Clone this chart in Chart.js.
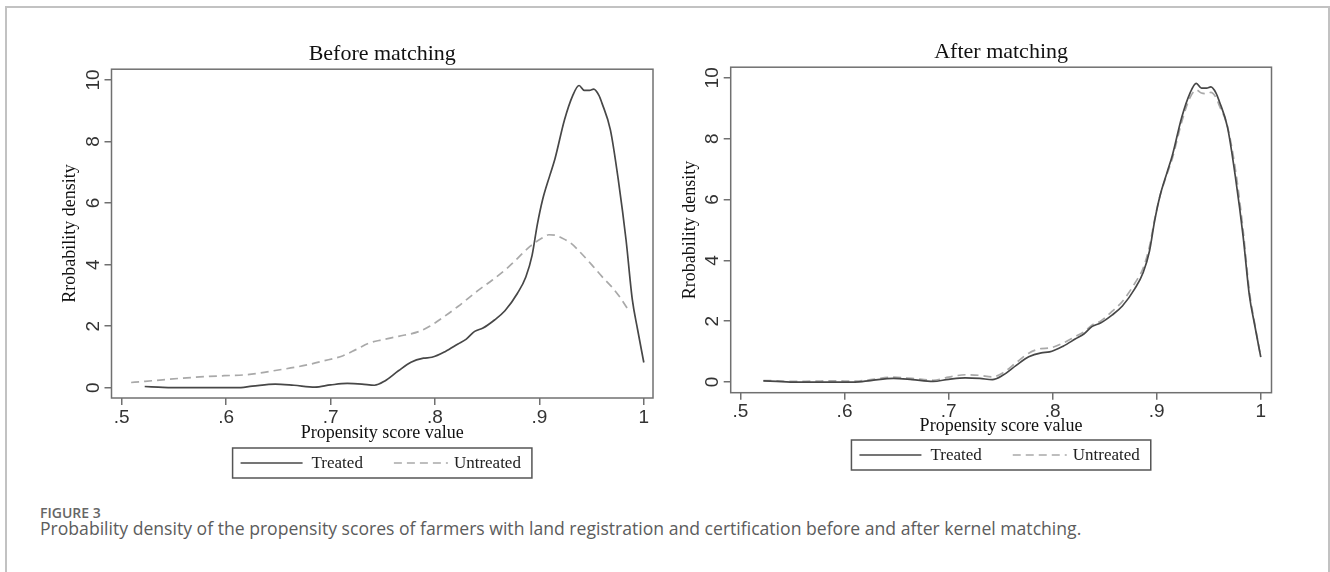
<!DOCTYPE html>
<html>
<head>
<meta charset="utf-8">
<script src="https://cdn.jsdelivr.net/npm/chart.js@4.4.1/dist/chart.umd.min.js"></script>
<style>
  html, body { margin: 0; padding: 0; background: #fff; width: 1330px; height: 572px; overflow: hidden; }
  .frame { position: absolute; left: 5px; top: 6px; width: 1325px; height: 620px; border: 2px solid #c2c2c2; border-bottom: none; box-sizing: border-box; }
  .panel { position: absolute; top: 0; width: 665px; height: 490px; }
  #leftPanel { left: 0; }
  #rightPanel { left: 665px; }
  .fig-label { position: absolute; left: 40px; top: 503px; line-height: 18px; font: 600 14px 'Open Sans', sans-serif; color: #666; }
  .fig-caption { position: absolute; left: 40px; top: 516px; line-height: 22px; font: 17.6px 'Open Sans', sans-serif; color: #5c5c5c; white-space: nowrap; }
</style>
</head>
<body>
<div class="frame"></div>
<div class="panel" id="leftPanel"><canvas id="beforeChart" width="665" height="490"></canvas></div>
<div class="panel" id="rightPanel"><canvas id="afterChart" width="665" height="490"></canvas></div>
<div class="fig-label">FIGURE 3</div>
<div class="fig-caption">Probability density of the propensity scores of farmers with land registration and certification before and after kernel matching.</div>
<script>
// propensity score grid + densities
const scoreTreated = [0.522, 0.535, 0.548, 0.57, 0.59, 0.61, 0.625, 0.647, 0.665, 0.685, 0.70, 0.716, 0.73, 0.742, 0.752, 0.765, 0.777, 0.789, 0.797, 0.81, 0.822, 0.83, 0.838, 0.846, 0.857, 0.867, 0.879, 0.887, 0.893, 0.898, 0.903, 0.91, 0.915, 0.924, 0.932, 0.938, 0.943, 0.948, 0.952, 0.957, 0.96, 0.968, 0.976, 0.983, 0.989, 0.994, 1.0];
const treatedDensity = [0.04, 0.02, 0.0, 0.0, 0.0, 0.0, 0.05, 0.12, 0.08, 0.02, 0.09, 0.14, 0.12, 0.08, 0.22, 0.55, 0.83, 0.96, 0.99, 1.18, 1.42, 1.58, 1.83, 1.94, 2.2, 2.5, 3.07, 3.6, 4.3, 5.3, 6.1, 6.9, 7.45, 8.7, 9.5, 9.82, 9.66, 9.66, 9.7, 9.5, 9.24, 8.38, 6.65, 4.8, 2.86, 1.9, 0.82];
const untreatedAfter = [0.05, 0.04, 0.02, 0.03, 0.04, 0.03, 0.08, 0.16, 0.12, 0.06, 0.16, 0.24, 0.22, 0.17, 0.3, 0.64, 0.95, 1.1, 1.12, 1.28, 1.5, 1.65, 1.88, 2.0, 2.32, 2.65, 3.25, 3.75, 4.45, 5.35, 6.1, 6.85, 7.35, 8.55, 9.35, 9.6, 9.5, 9.48, 9.52, 9.35, 9.1, 8.4, 6.9, 5.0, 3.0, 1.95, 0.82];

const scoreUntreated = [0.509, 0.53, 0.558, 0.58, 0.598, 0.619, 0.633, 0.647, 0.667, 0.68, 0.692, 0.712, 0.725, 0.737, 0.75, 0.765, 0.785, 0.795, 0.802, 0.822, 0.842, 0.855, 0.871, 0.891, 0.903, 0.909, 0.915, 0.92, 0.93, 0.94, 0.95, 0.96, 0.97, 0.978, 0.986];
const untreatedBefore = [0.17, 0.23, 0.31, 0.36, 0.39, 0.42, 0.48, 0.56, 0.67, 0.76, 0.86, 1.04, 1.25, 1.45, 1.56, 1.67, 1.83, 2.0, 2.15, 2.64, 3.18, 3.5, 3.94, 4.59, 4.87, 4.97, 4.96, 4.89, 4.7, 4.37, 4.0, 3.61, 3.25, 2.9, 2.48];

const xTicks = [0.5, 0.6, 0.7, 0.8, 0.9, 1.0];
const xTickLabels = ['.5', '.6', '.7', '.8', '.9', '1'];
const yTicks = [0, 2, 4, 6, 8, 10];
const yTickLabels = ['0', '2', '4', '6', '8', '10'];

const SERIF = '"Liberation Serif", "Times New Roman", serif';
const SANS = '"Liberation Sans", Arial, sans-serif';

function pts(xs, ys) {
    return xs.map((x, i) => ({ x: x, y: ys[i] }));
}

// stata style plot box + boxed legend under the axis title
const stataBox = {
    id: 'stataBox',
    afterDraw(chart, args, opts) {
        const ctx = chart.ctx;
        const a = chart.chartArea;
        ctx.save();
        ctx.strokeStyle = '#707070';
        ctx.lineWidth = 1.5;
        ctx.strokeRect(a.left, a.top, a.right - a.left, a.bottom - a.top);

        ctx.font = '17px ' + SERIF;
        const items = chart.data.datasets.map((ds, i) => ({
            text: ds.label,
            color: ds.borderColor,
            dash: ds.borderDash || [],
            line: i === 0 ? 62 : 54,
            gap: i === 0 ? 9 : 6,
            w: ctx.measureText(ds.label).width
        }));
        let total = 0;
        items.forEach((it, i) => { total += it.line + it.gap + it.w + (i > 0 ? 31 : 0); });
        const boxW = total + 19;
        const cx = (a.left + a.right) / 2;
        const boxL = cx - boxW / 2;
        const boxT = a.bottom + opts.legendOffset;
        const boxH = 30;
        ctx.strokeStyle = '#555';
        ctx.lineWidth = 1.5;
        ctx.strokeRect(boxL, boxT, boxW, boxH);

        let x = boxL + 8;
        const cy = boxT + boxH / 2;
        items.forEach((it, i) => {
            if (i > 0) x += 31;
            ctx.beginPath();
            ctx.setLineDash(it.dash);
            ctx.strokeStyle = it.color;
            ctx.lineWidth = 1.6;
            ctx.moveTo(x, cy);
            ctx.lineTo(x + it.line, cy);
            ctx.stroke();
            ctx.setLineDash([]);
            x += it.line + it.gap;
            ctx.fillStyle = '#222';
            ctx.textBaseline = 'middle';
            ctx.textAlign = 'left';
            ctx.fillText(it.text, x, cy + 1);
            x += it.w;
        });
        ctx.restore();
    }
};

function makeChart(id, title, sets, lay) {
    return new Chart(document.getElementById(id), {
        type: 'line',
        data: {
            datasets: [
                { label: 'Treated', data: sets[0], borderColor: '#474747', borderWidth: 1.7, pointRadius: 0, cubicInterpolationMode: 'monotone', fill: false },
                { label: 'Untreated', data: sets[1], borderColor: '#a9a9a9', borderWidth: 1.7, borderDash: [8, 5], pointRadius: 0, cubicInterpolationMode: 'monotone', fill: false }
            ]
        },
        options: {
            responsive: false,
            animation: false,
            events: [],
            layout: { padding: lay.padding },
            plugins: {
                legend: { display: false },
                tooltip: { enabled: false },
                title: {
                    display: true, text: title, fullSize: false, color: '#111',
                    font: { family: SERIF, size: 22, weight: 'normal' },
                    padding: { top: lay.titleTop, bottom: lay.titleBottom }
                },
                stataBox: { legendOffset: lay.legendOffset }
            },
            scales: {
                x: {
                    type: 'linear', min: lay.xMin, max: lay.xMax,
                    afterBuildTicks: s => { s.ticks = xTicks.map(v => ({ value: v })); },
                    afterFit: s => { s.height = lay.xHeight; },
                    border: { display: false },
                    grid: { drawOnChartArea: false, drawTicks: true, tickLength: 7, color: '#707070', lineWidth: 1.5 },
                    ticks: {
                        callback: (v, i) => xTickLabels[i], padding: lay.xTickPad, maxRotation: 0, autoSkip: false,
                        color: '#333', font: { family: SANS, size: 19 }
                    },
                    title: {
                        display: true, text: 'Propensity score value', color: '#111',
                        font: { family: SERIF, size: 18, lineHeight: 1 },
                        padding: { top: 0, bottom: lay.xTitlePad }
                    }
                },
                y: {
                    min: lay.yMin, max: lay.yMax,
                    afterBuildTicks: s => { s.ticks = yTicks.map(v => ({ value: v })); },
                    afterFit: s => { s.width = lay.yWidth; },
                    border: { display: false },
                    grid: { drawOnChartArea: false, drawTicks: true, tickLength: 7, color: '#707070', lineWidth: 1.5 },
                    ticks: {
                        callback: (v, i) => yTickLabels[i], minRotation: 90, maxRotation: 90, crossAlign: 'center',
                        padding: 0, autoSkip: false, color: '#333', font: { family: SANS, size: 19 }
                    },
                    title: {
                        display: true, text: 'Rrobability density', color: '#111',
                        font: { family: SERIF, size: 18, lineHeight: 1 },
                        padding: { top: lay.yTitlePad, bottom: 0 }
                    }
                }
            }
        },
        plugins: [stataBox]
    });
}

makeChart('beforeChart', 'Before matching',
    [pts(scoreTreated, treatedDensity), pts(scoreUntreated, untreatedBefore)],
    {
        padding: { left: 50, right: 12, top: 30, bottom: 45.5 },
        titleTop: 10.8, titleBottom: 2.0,
        xMin: 0.4902, xMax: 1.0088, yMin: -0.334, yMax: 10.35,
        xHeight: 46.5, xTickPad: 1, xTitlePad: 2.5,
        yWidth: 61.5, yTitlePad: 11, legendOffset: 50
    });

makeChart('afterChart', 'After matching',
    [pts(scoreTreated, treatedDensity), pts(scoreTreated, untreatedAfter)],
    {
        padding: { left: 5, right: 58.5, top: 30, bottom: 53 },
        titleTop: 8.8, titleBottom: 2.0,
        xMin: 0.4906, xMax: 1.0103, yMin: -0.35, yMax: 10.35,
        xHeight: 44.3, xTickPad: 1, xTitlePad: 2,
        yWidth: 60.7, yTitlePad: 11, legendOffset: 47.3
    });
</script>
</body>
</html>
